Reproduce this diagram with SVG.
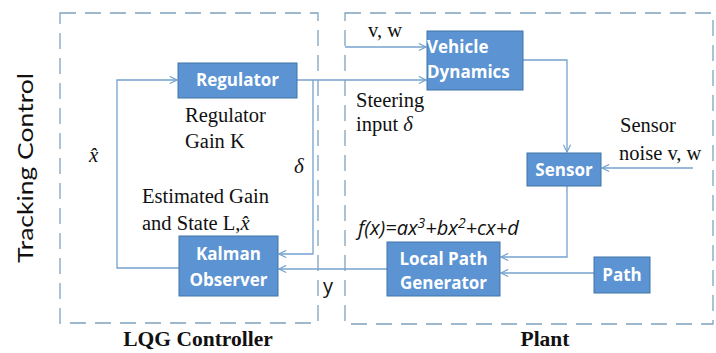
<svg xmlns="http://www.w3.org/2000/svg" width="716" height="353" viewBox="0 0 716 353">
<style>
.frame{fill:none;stroke:#7fa3bd;stroke-width:1.3;stroke-dasharray:16,9}
.box{fill:#5b93d3;stroke:#4274a8;stroke-width:1}
.bt{font-family:"Open Sans","Liberation Sans",sans-serif;font-weight:bold;font-size:17px;fill:#fff}
.ser{font-family:"Liberation Serif",serif;font-size:20.5px;fill:#111}
.it{font-family:"Liberation Serif",serif;font-style:italic;font-size:21px;fill:#111}
.ttl{font-family:"Liberation Serif",serif;font-weight:bold;font-size:21.5px;fill:#111}
.con{fill:none;stroke:#74a3cf;stroke-width:1.3}
</style>
<defs>
<marker id="ah" viewBox="0 0 10 10" refX="9" refY="5" markerWidth="9" markerHeight="9" markerUnits="userSpaceOnUse" orient="auto">
<path d="M1,1 L9,5 L1,9" fill="none" stroke="#74a3cf" stroke-width="1.3"/>
</marker>
</defs>
<rect width="716" height="353" fill="#fff"/>
<g id="frames">
<rect class="frame" x="60" y="13" width="258" height="310"/>
<rect class="frame" x="345" y="13" width="368" height="311"/>
</g>
<g id="connectors">
<path class="con" d="M179,268 H117 V80 H177" marker-end="url(#ah)"/>
<path class="con" d="M297,80 H426" marker-end="url(#ah)"/>
<path class="con" d="M313,80 V254 H279" marker-end="url(#ah)"/>
<path class="con" d="M345,47 H426" marker-end="url(#ah)"/>
<path class="con" d="M523,60 H567 V152" marker-end="url(#ah)"/>
<path class="con" d="M693,168 H602" marker-end="url(#ah)"/>
<path class="con" d="M567,186 V257 H501" marker-end="url(#ah)"/>
<path class="con" d="M594,273 H501" marker-end="url(#ah)"/>
<path class="con" d="M387,269 H279" marker-end="url(#ah)"/>
</g>
<g id="regulator">
<rect class="box" x="178" y="63" width="119" height="35"/>
<text class="bt" x="237.5" y="86" text-anchor="middle">Regulator</text>
</g>
<g id="vehicle-dynamics">
<rect class="box" x="427" y="31" width="96" height="59"/>
<text class="bt" x="427" y="53">Vehicle</text>
<text class="bt" x="427" y="78">Dynamics</text>
</g>
<g id="sensor">
<rect class="box" x="527" y="153" width="74" height="33"/>
<text class="bt" x="564" y="176" text-anchor="middle">Sensor</text>
</g>
<g id="local-path-generator">
<rect class="box" x="387" y="242" width="113" height="54"/>
<text class="bt" x="443.5" y="265" text-anchor="middle">Local Path</text>
<text class="bt" x="443.5" y="289" text-anchor="middle">Generator</text>
</g>
<g id="path">
<rect class="box" x="594" y="257" width="56" height="36"/>
<text class="bt" x="622" y="281" text-anchor="middle">Path</text>
</g>
<g id="kalman-observer">
<rect class="box" x="179" y="236" width="99" height="60"/>
<text class="bt" x="228.5" y="260" text-anchor="middle">Kalman</text>
<text class="bt" x="228.5" y="286" text-anchor="middle">Observer</text>
</g>
<g id="labels">
<text font-family="Lato,'Open Sans',sans-serif" font-size="22" fill="#111" transform="translate(33,168) rotate(-90)" text-anchor="middle" textLength="190" lengthAdjust="spacingAndGlyphs">Tracking Control</text>
<text class="ser" x="185" y="122">Regulator</text>
<text class="ser" x="185" y="148">Gain K</text>
<text class="it" x="89" y="162">x̂</text>
<text class="it" x="294" y="173">δ</text>
<text class="ser" x="142" y="203">Estimated Gain</text>
<text class="ser" x="142" y="230">and State L,<tspan font-style="italic">x̂</tspan></text>
<text font-family="'Open Sans','Liberation Sans',sans-serif" font-size="20" fill="#111" x="323" y="293">y</text>
<text class="ser" x="368" y="37">v, w</text>
<text class="ser" x="356" y="107">Steering</text>
<text class="ser" x="356" y="131">input <tspan font-style="italic">δ</tspan></text>
<text class="ser" x="620" y="132">Sensor</text>
<text class="ser" x="619" y="160">noise v, w</text>
<text font-family="'Open Sans','Liberation Sans',sans-serif" font-style="italic" font-size="20" fill="#111" x="358" y="235">f(x)=ax<tspan font-size="14" dy="-7">3</tspan><tspan dy="7">+bx</tspan><tspan font-size="14" dy="-7">2</tspan><tspan dy="7">+cx+d</tspan></text>
<text class="ttl" x="198" y="346" text-anchor="middle">LQG Controller</text>
<text class="ttl" x="545" y="346" text-anchor="middle">Plant</text>
</g>
</svg>
